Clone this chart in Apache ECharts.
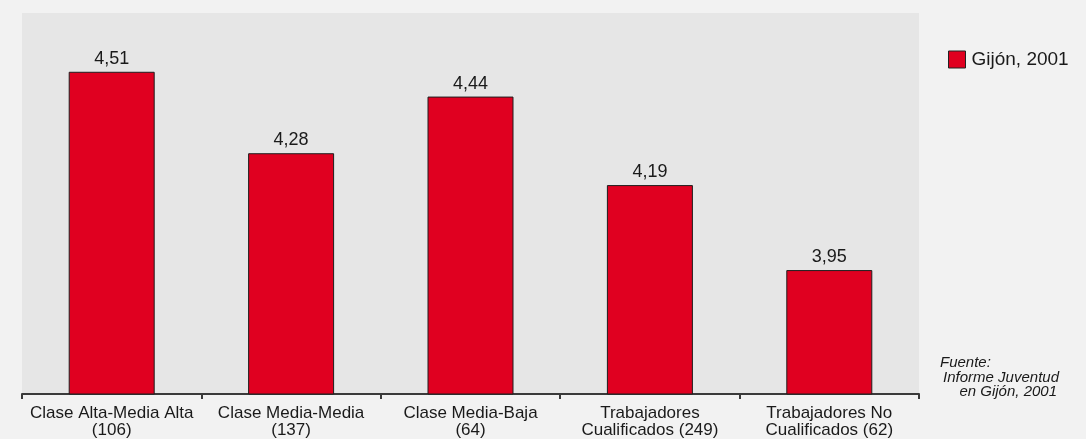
<!DOCTYPE html>
<html>
<head>
<meta charset="utf-8">
<style>
  html, body { margin: 0; padding: 0; background: #f2f2f2; }
  #chart { width: 1086px; height: 439px; }
</style>
<script src="https://cdn.jsdelivr.net/npm/echarts@6/dist/echarts.min.js"></script>
</head>
<body>
<div id="chart"></div>
<script>
// categories and values
const categories = [
  'Clase Alta-Media Alta\n(106)',
  'Clase Media-Media\n(137)',
  'Clase Media-Baja\n(64)',
  'Trabajadores\nCualificados (249)',
  'Trabajadores No\nCualificados (62)'
]
const values = [4.51, 4.28, 4.44, 4.19, 3.95]
const seriesName = 'Gijón, 2001'
const sourceLines = ['Fuente:', 'Informe Juventud', 'en Gijón, 2001']

const fontFamily = '"Liberation Sans", Arial, sans-serif'
const chart = echarts.init(document.getElementById('chart'))

chart.setOption({
  backgroundColor: '#f2f2f2',
  animation: false,
  textStyle: { fontFamily: fontFamily },
  grid: {
    left: 22,
    right: 167,
    top: 13,
    bottom: 43,
    show: true,
    backgroundColor: '#e6e6e6',
    borderWidth: 0
  },
  legend: {
    data: [seriesName],
    left: 943,
    top: 45,
    icon: 'rect',
    itemWidth: 17,
    itemHeight: 17,
    itemGap: 6,
    textStyle: { fontSize: 19, color: '#1a1a1a', fontFamily: fontFamily, padding: [0, 0, 0, 1] },
    itemStyle: { borderColor: '#222', borderWidth: 1 }
  },
  xAxis: {
    type: 'category',
    data: categories,
    axisLine: { lineStyle: { color: '#3a3a3a', width: 2 } },
    axisTick: { show: true, length: 5, lineStyle: { color: '#3a3a3a', width: 2 } },
    axisLabel: {
      interval: 0,
      fontSize: 17,
      lineHeight: 17,
      color: '#1a1a1a',
      margin: 11,
      fontFamily: fontFamily
    }
  },
  yAxis: {
    type: 'value',
    min: 3.6,
    max: 4.676,
    show: false,
    splitLine: { show: false }
  },
  series: [
    {
      name: seriesName,
      type: 'bar',
      data: values,
      barWidth: 86,
      itemStyle: {
        color: '#e00020',
        borderColor: '#1e1e1e',
        borderWidth: 1
      },
      label: {
        show: true,
        position: 'top',
        distance: 4,
        fontSize: 18,
        color: '#1a1a1a',
        fontFamily: fontFamily,
        formatter: p => String(p.value).replace('.', ',')
      }
    }
  ],
  graphic: [
    {
      type: 'text',
      left: 940,
      top: 355,
      style: { text: sourceLines[0], font: 'italic 15px ' + fontFamily, fill: '#1a1a1a' }
    },
    {
      type: 'text',
      right: 27,
      top: 370,
      style: { text: sourceLines[1], font: 'italic 15px ' + fontFamily, fill: '#1a1a1a', align: 'right' }
    },
    {
      type: 'text',
      right: 29,
      top: 384,
      style: { text: sourceLines[2], font: 'italic 15px ' + fontFamily, fill: '#1a1a1a', align: 'right' }
    }
  ]
})
</script>
</body>
</html>
